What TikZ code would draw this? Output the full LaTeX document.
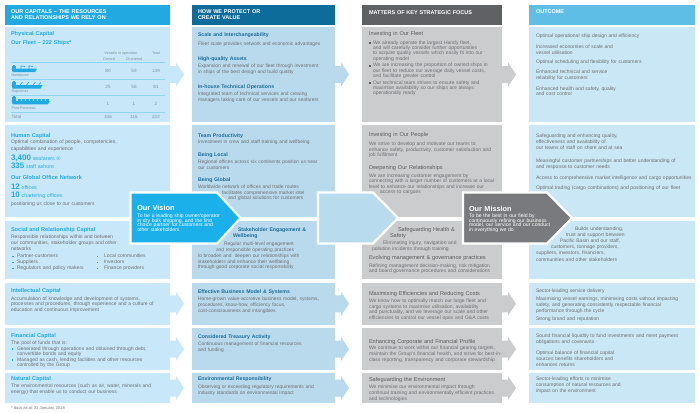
\documentclass[tikz,border=0pt]{standalone}
\usepackage{fontspec}
\setmainfont{Liberation Sans}
\usetikzlibrary{calc}
\definecolor{capC}{HTML}{22A9E1}
\definecolor{capB}{HTML}{C8E8F9}
\definecolor{valH}{HTML}{0E6C9B}
\definecolor{valB}{HTML}{B9DAEC}
\definecolor{valT}{HTML}{1A6C9D}
\definecolor{focH}{HTML}{606164}
\definecolor{focB}{HTML}{CBCCCE}
\definecolor{focT}{HTML}{5A5B5D}
\definecolor{outH}{HTML}{5EBEE5}
\definecolor{outB}{HTML}{CAE7F5}
\definecolor{txtG}{HTML}{6E6F72}
\definecolor{tabG}{HTML}{7D8F9B}
\definecolor{rulC}{HTML}{8DD4F4}
\definecolor{visC}{HTML}{1BB0EA}
\definecolor{misC}{HTML}{797A7D}
\definecolor{midC}{HTML}{B8DBED}
\newcommand\fsz[2]{\fontsize{#1}{#2}\selectfont\lineskiplimit=-5pt\relax}
\newcommand\bx[6]{\node[panel,fill=#2,minimum width=#5-#3,minimum height=#6-#4] (#1) at (#3,#4) {};}
\newcommand\blkarrow[2]{\fill[#2] ($(#1.east)+(0,-8.5)$) -- ++(6,0) -- ++(0,-3.5) -- ++(8,12) -- ++(-8,12) -- ++(0,-3.5) -- ++(-6,0) -- cycle;}
\newcommand\bsq[3]{\fill[#3] (#1,#2-2.3) rectangle ++(1.9,1.9);}
\begin{document}
\begin{tikzpicture}[x=1pt,y=-1pt,
  panel/.style={anchor=north west,inner sep=0,outer sep=0,draw=none},
  bt/.style={anchor=base west,inner sep=0,outer sep=0,text width=180pt,align=left,font=\fsz{5}{5.6},text=txtG},
  b2/.style={bt,font=\fsz{4.9}{5.4}},
  ti1/.style={bt,font=\fsz{5.6}{6.5}\bfseries,text=capC},
  ti2/.style={bt,font=\fsz{5.2}{6.2}\bfseries,text=valT},
  ti3/.style={bt,font=\fsz{5.6}{6.5},text=focT},
  hd/.style={bt,font=\fsz{5.5}{6.2}\bfseries,text=white},
  tb/.style={anchor=base,inner sep=0,outer sep=0,font=\fsz{3.7}{4},text=tabG},
  tn/.style={anchor=base,inner sep=0,outer sep=0,font=\fsz{4.6}{5},text=tabG},
  rl/.style={draw=rulC,line width=0.7},
  vt/.style={bt,text=white,font=\fsz{5.1}{4.5}},
  vh/.style={bt,text=white,font=\fsz{7.3}{8}\bfseries},
  chev/.style={draw=white,line width=2.2,line join=miter}]
\useasboundingbox (0,0) rectangle (700,412);
\fill[white] (0,0) rectangle (700,412);

% ---------- panels ----------
\bx{h1}{capC}{5}{5}{170}{25}
\bx{h2}{valH}{192}{5}{335}{25}
\bx{h3}{focH}{362}{5}{502}{25}
\bx{h4}{outH}{529}{5}{695}{25}
\bx{c1r1}{capB}{5}{27}{170}{122}
\bx{c2r1}{valB}{192}{27}{335}{122}
\bx{c3r1}{focB}{362}{27}{502}{122}
\bx{c4r1}{outB}{529}{27}{695}{122}
\bx{c1r2}{capB}{5}{125}{170}{217}
\bx{c2r2}{valB}{192}{125}{335}{217}
\bx{c3r2}{focB}{362}{125}{502}{217}
\bx{c4r2}{outB}{529}{125}{695}{217}
\bx{c1r3}{capB}{5}{221}{170}{279}
\bx{c2r3}{valB}{192}{221}{335}{279}
\bx{c3r3}{focB}{362}{221}{502}{279}
\bx{c4r3}{outB}{529}{221}{695}{279}
\bx{c1r4}{capB}{5}{283}{170}{324.5}
\bx{c2r4}{valB}{192}{283}{335}{324.5}
\bx{c3r4}{focB}{362}{283}{502}{324.5}
\bx{c4r4}{outB}{529}{283}{695}{324.5}
\bx{c1r5}{capB}{5}{328}{170}{370}
\bx{c2r5}{valB}{192}{328}{335}{370}
\bx{c3r5}{focB}{362}{328}{502}{370}
\bx{c4r5}{outB}{529}{328}{695}{370}
\bx{c1r6}{capB}{5}{373}{170}{403}
\bx{c2r6}{valB}{192}{373}{335}{403}
\bx{c3r6}{focB}{362}{373}{502}{403}
\bx{c4r6}{outB}{529}{373}{695}{403}

% ---------- arrows ----------
\blkarrow{c1r1}{capB}
\blkarrow{c2r1}{valB}
\blkarrow{c3r1}{focB}
\blkarrow{c1r4}{capB}
\blkarrow{c2r4}{valB}
\blkarrow{c3r4}{focB}
\blkarrow{c1r5}{capB}
\blkarrow{c2r5}{valB}
\blkarrow{c3r5}{focB}
\blkarrow{c1r6}{capB}
\blkarrow{c2r6}{valB}
\blkarrow{c3r6}{focB}

% ---------- chevrons ----------
\filldraw[chev,fill=visC] (130.5,192.5) -- (217,192.5) -- (240.5,218) -- (217,243.5) -- (130.5,243.5) -- cycle;
\filldraw[chev,fill=midC] (318,192.5) -- (373,192.5) -- (398,218) -- (373,243.5) -- (318,243.5) -- cycle;
\filldraw[chev,fill=misC] (463,192.5) -- (547,192.5) -- (572,218) -- (547,243.5) -- (463,243.5) -- cycle;

% ---------- headers ----------
\node[hd] (h1t) at (11,13.7) {OUR CAPITALS – THE RESOURCES\\AND RELATIONSHIPS WE RELY ON};
\node[hd] (h2t) at (198,13.7) {HOW WE PROTECT OR\\CREATE VALUE};
\node[hd] (h3t) at (369,14.2) {MATTERS OF KEY STRATEGIC FOCUS};
\node[hd] (h4t) at (536,13.2) {OUTCOME};

% ---------- column 1 ----------
\node[ti1] (pc1) at (11,35) {Physical Capital};
\node[ti1] (pc2) at (11,45) {Our Fleet – 222 Ships*};
\node[tb] (tbh1) at (121,54.3) {Vessels in operation};
\node[tb] (tbh2) at (156,54.3) {Total};
\node[tb] (tbh3) at (109,60.3) {Owned};
\node[tb] (tbh4) at (134,60.3) {Chartered};
\draw[rl,line width=1] (11,62.3) -- (165,62.3);
\draw[rl] (11,79.2) -- (165,79.2);
\draw[rl] (11,95.8) -- (165,95.8);
\draw[rl] (11,112.7) -- (165,112.7);
% ships
\fill[capC] (11.5,68.6) -- (37,68.6) -- (35.2,72) -- (12.6,72) -- cycle;
\fill[capC] (12.2,65.6) rectangle (15.6,68.6);
\fill[capC] (13,64.6) rectangle (14.6,65.6);
\draw[capC,line width=0.6] (21,68.6) -- (21,65.8) -- (25,66.6) (29,68.6) -- (29,65.8) -- (33,66.6);
\fill[capC] (11.5,85) -- (42.5,85) -- (40.6,88.5) -- (12.6,88.5) -- cycle;
\fill[capC] (12.2,82) rectangle (15.6,85);
\fill[capC] (13,81) rectangle (14.6,82);
\draw[capC,line width=0.6] (20,85) -- (22.5,82) (26.5,85) -- (29,82) (33,85) -- (35.5,82) (38.5,85) -- (41,82.3);
\fill[capC] (11.5,100.8) -- (50,100.8) -- (48,104.3) -- (12.6,104.3) -- cycle;
\fill[capC] (12.2,97) rectangle (16,100.8);
\fill[capC] (13,96) rectangle (15,97);
\foreach \k in {0,...,7} \fill[capC] (17.5+\k*4,99) rectangle ++(3.3,1.8);
\node[tb,anchor=base west] (sl1) at (11.5,76.3) {Handysize};
\node[tb,anchor=base west] (sl2) at (11.5,92.3) {Supramax};
\node[tb,anchor=base west] (sl3) at (11.5,109.3) {Post-Panamax};
\node[tn] (v11) at (108,72.5) {80};
\node[tn] (v12) at (134,72.5) {59};
\node[tn] (v13) at (156,72.5) {139};
\node[tn] (v21) at (108,88.5) {25};
\node[tn] (v22) at (134,88.5) {56};
\node[tn] (v23) at (156,88.5) {81};
\node[tn] (v31) at (108,105.5) {1};
\node[tn] (v32) at (134,105.5) {1};
\node[tn] (v33) at (156,105.5) {2};
\node[tn,anchor=base west] (v40) at (11.5,118.5) {Total};
\node[tn] (v41) at (108,118.5) {106};
\node[tn] (v42) at (134,118.5) {116};
\node[tn] (v43) at (156,118.5) {222};

\node[ti1] (hc1) at (11,137) {Human Capital};
\node[bt,font=\fsz{5.1}{6.4}] (hc2) at (11,143.8) {Optimal combination of people, competencies,\\capabilities and experience};
\node[bt,text=capC,font=\fsz{5.3}{6}] (hc3) at (11,160.4) {{\fsz{8}{9}\bfseries 3,400} seafarers ®};
\node[bt,text=capC,font=\fsz{5.3}{6}] (hc4) at (11,168) {{\fsz{8}{9}\bfseries 335} staff ashore};
\node[ti1] (hc5) at (11,179) {Our Global Office Network};
\node[bt,text=capC,font=\fsz{5.3}{6}] (hc6) at (11,189.4) {{\fsz{8}{9}\bfseries 12} offices};
\node[bt,text=capC,font=\fsz{5.3}{6}] (hc7) at (11,197.8) {{\fsz{8}{9}\bfseries 10} chartering offices};
\node[bt] (hc8) at (11,205.8) {positioning us close to our customers};

\node[ti1] (sr1) at (11,231.3) {Social and Relationship Capital};
\node[bt,font=\fsz{5}{5.8}] (sr2) at (11,238.8) {Responsible relationships within and between\\our communities, stakeholder groups and other\\networks};
\node[bt,font=\fsz{5}{6}] (sr3) at (17,257.8) {Partner-customers\\Suppliers\\Regulators and policy makers};
\node[bt,font=\fsz{5}{6}] (sr4) at (104,257.8) {Local communities\\Investors\\Finance providers};
\bsq{12.3}{257.8}{capC}\bsq{12.3}{263.8}{capC}\bsq{12.3}{269.8}{capC}
\bsq{96.5}{257.8}{capC}\bsq{96.5}{263.8}{capC}\bsq{96.5}{269.8}{capC}

\node[ti1] (ic1) at (11,292) {Intellectual Capital};
\node[bt,font=\fsz{5}{5.2}] (ic2) at (11,300.7) {Accumulation of knowledge and development of systems,\\processes and procedures, through experience and a culture of\\education and continuous improvement};
\node[ti1] (fc1) at (11,337) {Financial Capital};
\node[bt] (fc2) at (11,344.7) {The pool of funds that is:};
\node[bt,font=\fsz{5}{5.2}] (fc3) at (17,350.7) {Generated through operations and obtained through debt,\\convertible bonds and equity};
\node[bt,font=\fsz{5}{5.2}] (fc4) at (17,361.7) {Managed as cash, lending facilities and other resources\\controlled by the Group};
\bsq{11.5}{350.7}{capC}\bsq{11.5}{361.7}{capC}
\node[ti1] (nc1) at (11,380) {Natural Capital};
\node[bt,font=\fsz{5}{5.4}] (nc2) at (11,387.7) {The environmental resources (such as air, water, minerals and\\energy) that enable us to conduct our business};
\node[bt,font=\fsz{4.1}{5}] (fn) at (11,409.3) {* data as at 31 January 2018};

% ---------- column 2 ----------
\node[ti2] (v1a) at (198,37) {Scale and Interchangeability};
\node[b2] (v1b) at (198,45.7) {Fleet scale provides network and economic advantages};
\node[ti2] (v1c) at (198,60) {High-quality Assets};
\node[b2,font=\fsz{4.9}{5.3}] (v1d) at (198,67.7) {Expansion and renewal of our fleet through investment\\in ships of the best design and build quality};
\node[ti2] (v1e) at (198,88) {In-house Technical Operations};
\node[b2,font=\fsz{4.9}{5.4}] (v1f) at (198,95.9) {Integrated team of technical services and crewing\\managers taking care of our vessels and our seafarers};
\node[ti2] (v2a) at (198,137) {Team Productivity};
\node[b2] (v2b) at (198,143.9) {Investment in crew and staff training and wellbeing};
\node[ti2] (v2c) at (198,156) {Being Local};
\node[b2,font=\fsz{4.9}{5.3}] (v2d) at (198,163.9) {Regional offices across six continents position us near\\our customers};
\node[ti2] (v2e) at (198,181) {Being Global};
\node[b2] (v2f) at (198,188.9) {Worldwide network of offices and trade routes};
\node[b2] (v2g) at (222,194.1) {facilitates comprehensive market intel};
\node[b2] (v2h) at (228,199.3) {and global solutions for customers};
\node[ti2] (v3a) at (238,231) {Stakeholder Engagement \&};
\node[ti2] (v3b) at (233,237.2) {Wellbeing};
\node[b2] (v3c) at (224,245.9) {Regular multi-level engagement};
\node[b2] (v3d) at (216,251.7) {and responsible operating practices};
\node[b2,font=\fsz{4.9}{5.6}] (v3e) at (198,257.6) {to broaden and \ deepen our relationships with\\stakeholders and enhance their wellbeing\\through good corporate social responsibility};
\node[ti2] (v4a) at (198,293) {Effective Business Model \& Systems};
\node[b2,font=\fsz{4.9}{5.8}] (v4b) at (198,300.9) {Home-grown value-accretive business model, systems,\\procedures, know-how, efficiency focus,\\cost-consciousness and intangibles};
\node[ti2] (v5a) at (198,338) {Considered Treasury Activity};
\node[b2,font=\fsz{4.9}{5.6}] (v5b) at (198,345.9) {Continuous management of financial resources\\and funding};
\node[ti2] (v6a) at (198,380.3) {Environmental Responsibility};
\node[b2,font=\fsz{4.9}{5.5}] (v6b) at (198,388.9) {Observing or exceeding regulatory requirements and\\industry standards on environmental impact};

% ---------- column 3 ----------
\node[ti3] (f1a) at (369,35.5) {Investing in Our Fleet};
\node[bt,font=\fsz{5}{5.3}] (f1b) at (373,44.2) {We already operate the largest Handy fleet,\\and will carefully consider further opportunities\\to acquire quality vessels which easily fit into our\\operating model};
\node[bt,font=\fsz{5}{5.3}] (f1c) at (373,66.9) {We are increasing the proportion of owned ships in\\our fleet to reduce our average daily vessel costs,\\and facilitate greater control};
\node[bt,font=\fsz{5}{5.3}] (f1d) at (373,84.3) {Our technical team strives to ensure safety and\\maximise availability so our ships are always\\operationally ready};
\bsq{368.6}{44.2}{focT}\bsq{368.6}{66.9}{focT}\bsq{368.6}{84.3}{focT}
\node[ti3] (f2a) at (369,136.2) {Investing in Our People};
\node[bt,font=\fsz{5}{5.5}] (f2b) at (369,145.7) {We strive to develop and motivate our teams to\\enhance safety, productivity, customer satisfaction and\\job fulfilment};
\node[ti3] (f2c) at (369,169) {Deepening Our Relationships};
\node[bt,font=\fsz{5}{5.2}] (f2d) at (369,177.7) {We are increasing customer engagement by\\connecting with a larger number of customers at a local\\level to enhance our relationships and increase our};
\node[bt] (f2e) at (380,193.3) {access to cargoes};
\node[ti3] (f3a) at (398,231) {Safeguarding Health \&};
\node[ti3] (f3b) at (390,237) {Safety};
\node[bt] (f3c) at (383,244.8) {Eliminating injury, navigation and};
\node[bt] (f3d) at (372,250.2) {pollution incidents through training};
\node[ti3] (f3e) at (369,259.7) {Evolving management \& governance practices};
\node[bt,font=\fsz{5}{5.6}] (f3f) at (369,267.3) {Refining management decision-making, risk mitigation\\and board governance procedures and considerations};
\node[ti3] (f4a) at (369,295) {Maximising Efficiencies and Reducing Costs};
\node[bt,font=\fsz{5}{5.6}] (f4b) at (369,302.7) {We know how to optimally match our large fleet and\\cargo systems to maximise utilisation, availability\\and punctuality, and we leverage our scale and other\\efficiencies to control our vessel opex and G\&A costs};
\node[ti3] (f5a) at (369,343) {Enhancing Corporate and Financial Profile};
\node[bt,font=\fsz{5}{5.8}] (f5b) at (369,349.7) {We continue to work within our financial gearing targets,\\maintain the Group's financial health, and strive for best-in-\\class reporting, transparency and corporate stewardship};
\node[ti3] (f6a) at (369,381) {Safeguarding the Environment};
\node[bt,font=\fsz{5}{5.8}] (f6b) at (369,388.7) {We minimise our environmental impact through\\continual training and environmentally efficient practices\\and technologies};

% ---------- column 4 ----------
\node[bt] (o1a) at (536,37.8) {Optimal operational ship design and efficiency};
\node[bt,font=\fsz{5}{5.6}] (o1b) at (536,48.7) {Increased economies of scale and\\vessel utilisation};
\node[bt] (o1c) at (536,63.7) {Optimal scheduling and flexibility for customers};
\node[bt,font=\fsz{5}{5.9}] (o1d) at (536,74) {Enhanced technical and service\\reliability for customers};
\node[bt,font=\fsz{5}{5.9}] (o1e) at (536,90) {Enhanced health and safety, quality\\and cost control};
\node[bt,font=\fsz{5}{6}] (o2a) at (536,137.8) {Safeguarding and enhancing quality,\\effectiveness and availability of\\our teams of staff on shore and at sea};
\node[bt,font=\fsz{5}{6}] (o2b) at (536,162.4) {Meaningful customer partnerships and better understanding of\\and response to customer needs};
\node[bt] (o2c) at (536,179) {Access to comprehensive market intelligence and cargo opportunities};
\node[bt] (o2d) at (536,189) {Optimal trading (cargo combinations) and positioning of our fleet};
\node[bt] (o3a) at (575,230.8) {Builds understanding,};
\node[bt] (o3b) at (566,236.8) {trust and support between};
\node[bt] (o3c) at (560,242.8) {Pacific Basin and our staff,};
\node[bt] (o3d) at (551,248.8) {customers, tonnage providers,};
\node[bt,font=\fsz{5}{6.3}] (o3e) at (536,254.9) {suppliers, investors, financiers,\\communities and other stakeholders};
\node[bt] (o4a) at (536,292.4) {Sector-leading service delivery};
\node[bt,font=\fsz{5}{5.8}] (o4b) at (536,300.7) {Maximising vessel earnings, minimising costs without impacting\\safety, and generating consistently respectable financial\\performance through the cycle};
\node[bt] (o4c) at (536,320.7) {Strong brand and reputation};
\node[bt,font=\fsz{5}{6.2}] (o5a) at (536,337.7) {Sound financial liquidity to fund investments and meet payment\\obligations and covenants};
\node[bt,font=\fsz{5}{6}] (o5b) at (536,354) {Optimal balance of financial capital\\sources benefits shareholders and\\enhances returns};
\node[bt,font=\fsz{5}{6.2}] (o6a) at (536,380) {Sector-leading efforts to minimise\\consumption of natural resources and\\impact on the environment};

% ---------- vision / mission ----------
\node[vh] (vis1) at (137.3,210.9) {Our Vision};
\node[vt] (vis2) at (137.3,217.6) {To be a leading ship owner/operator\\in dry bulk shipping, and the first\\choice partner for customers and\\other stakeholders};
\node[vh] (mis1) at (469,211.6) {Our Mission};
\node[vt] (mis2) at (469,217.6) {To be the best in our field by\\continuously refining our business\\model, our service and our conduct\\in everything we do};
\end{tikzpicture}
\end{document}
